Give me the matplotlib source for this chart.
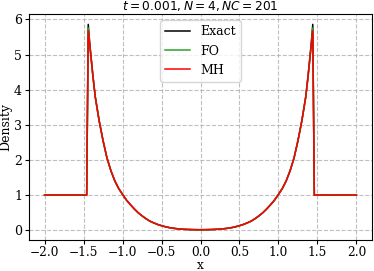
import numpy as np
import matplotlib
matplotlib.use('Agg')
import matplotlib.pyplot as plt

plt.rcParams['font.family'] = 'DejaVu Serif'
plt.rcParams['mathtext.fontset'] = 'dejavusans'
plt.rcParams['font.size'] = 9

# left half of the profile (x <= 0); right half mirrors it
x_half = [-2.0, -1.46, -1.44, -1.42, -1.40, -1.38, -1.35, -1.30, -1.25, -1.20,
          -1.15, -1.10, -1.05, -1.00, -0.95, -0.90, -0.85, -0.80, -0.75, -0.70,
          -0.65, -0.60, -0.55, -0.50, -0.45, -0.40, -0.35, -0.30, -0.25, -0.20,
          -0.15, -0.10, -0.05, 0.0]
exact_half = [1.0, 1.0, 5.86, 5.30, 4.85, 4.40, 3.80, 3.12, 2.55, 2.06,
              1.70, 1.41, 1.19, 1.02, 0.86, 0.73, 0.61, 0.50, 0.41, 0.33,
              0.26, 0.21, 0.165, 0.13, 0.10, 0.075, 0.057, 0.043, 0.033, 0.026,
              0.021, 0.018, 0.016, 0.015]
fo_half = [1.0, 1.0, 5.76, 5.27, 4.83, 4.39, 3.80, 3.12, 2.55, 2.06,
           1.70, 1.41, 1.19, 1.02, 0.86, 0.73, 0.61, 0.50, 0.41, 0.33,
           0.26, 0.21, 0.165, 0.13, 0.10, 0.075, 0.057, 0.043, 0.033, 0.026,
           0.021, 0.018, 0.016, 0.015]
mh_half = [1.0, 1.0, 5.68, 5.25, 4.82, 4.38, 3.79, 3.11, 2.55, 2.06,
           1.70, 1.41, 1.19, 1.02, 0.86, 0.73, 0.61, 0.50, 0.41, 0.33,
           0.26, 0.21, 0.165, 0.13, 0.10, 0.075, 0.057, 0.043, 0.033, 0.026,
           0.021, 0.018, 0.016, 0.015]

def full(xs, ys):
    x = np.array(xs)
    y = np.array(ys)
    return np.concatenate([x, -x[-2::-1]]), np.concatenate([y, y[-2::-1]])

fig = plt.figure(figsize=(3.74, 2.71), dpi=100)
ax = fig.add_axes([0.0775, 0.1144, 0.9172, 0.8336])

x, y = full(x_half, exact_half)
ax.plot(x, y, color='k', lw=1.1, label='Exact')
x, y = full(x_half, fo_half)
ax.plot(x, y, color='tab:green', lw=1.1, label='FO')
x, y = full(x_half, mh_half)
ax.plot(x, y, color='red', lw=1.1, label='MH')

ax.tick_params(pad=2, length=3)
ax.tick_params(axis='x', pad=1.5, labelsize=8.7)
ax.set_xlabel('x', labelpad=-0.5, fontsize=8.7)
ax.set_ylabel('Density', labelpad=1)
ax.set_title(r'$t = 0.001, N = 4, NC = 201$', fontsize=8.8, pad=3)
ax.grid(True, linestyle='--', color='#b0b0b0', alpha=0.8)
ax.legend(loc='upper center')

fig.savefig('out.png', dpi=100)
